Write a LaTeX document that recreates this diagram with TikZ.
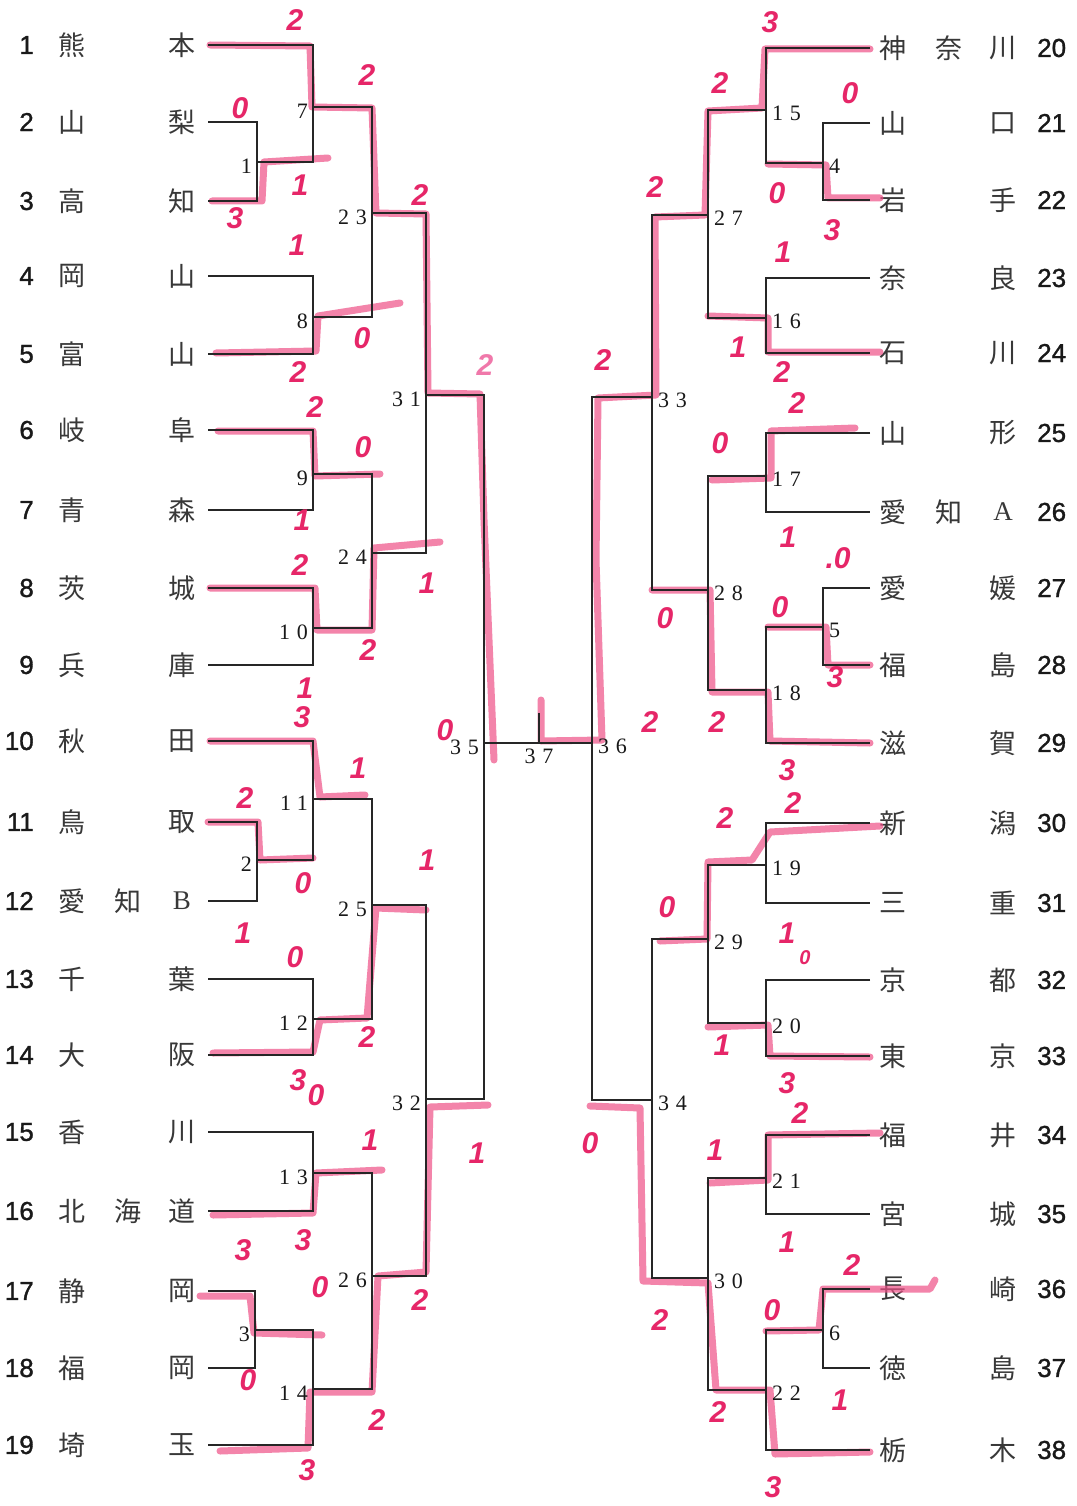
\documentclass[tikz,border=0pt]{standalone}
\usepackage{fontspec}
\newfontfamily\cjk{Noto Sans CJK JP}
\newfontfamily\numf[FakeBold=1.2]{Liberation Sans}
\newfontfamily\serf[LetterSpace=30]{Liberation Serif}
\newfontfamily\latf{Liberation Serif}
\newfontfamily\hand{Liberation Sans}
\newcommand\latB[1]{{\latf #1}}
\definecolor{hl}{RGB}{238,80,135}
\definecolor{pen}{RGB}{230,38,104}
\definecolor{penlt}{RGB}{240,120,170}
\tikzset{
 br/.style={draw=black!85, line width=1.2pt},
 hl/.style={draw=hl, line width=7pt, opacity=0.7, line cap=round, line join=round},
 sc/.style={text=pen, font=\hand\bfseries\itshape\fontsize{30}{30}\selectfont, inner sep=0pt},
 kj/.style={font=\cjk\fontsize{27}{27}\selectfont, text=black!78, inner sep=0pt},
 tnum/.style={font=\numf\fontsize{26}{26}\selectfont, text=black!90, inner sep=0pt},
 mnum/.style={font=\serf\fontsize{22}{22}\selectfont, text=black!90, inner sep=0pt},
}
\begin{document}
\begin{tikzpicture}[x=1pt,y=-1pt]
\useasboundingbox[fill=white] (0,0) rectangle (1076,1506);

% ---------- team entries ----------
\foreach \i/\y/\a/\c in {1/45/熊/本, 2/122/山/梨, 3/201/高/知, 4/276/岡/山, 5/354/富/山, 6/430/岐/阜, 7/510/青/森, 8/588/茨/城, 9/665/兵/庫, 10/741/秋/田, 11/822/鳥/取, 12/901/愛/{\latB B}, 13/979/千/葉, 14/1055/大/阪, 15/1132/香/川, 16/1211/北/道, 17/1291/静/岡, 18/1368/福/岡, 19/1445/埼/玉}{
  \node[tnum,anchor=east] (ln\i) at (34,\y) {\i};
  \node[kj] (la\i) at (72,\y) {\a};
  \node[kj] (lc\i) at (182,\y) {\c};
  \coordinate (L\i) at (208,\y);
}
\node[kj] (lb12) at (128,901) {知};
\node[kj] (lb16) at (128,1211) {海};

\foreach \i/\y/\a/\c in {20/48/神/川, 21/123/山/口, 22/200/岩/手, 23/278/奈/良, 24/353/石/川, 25/433/山/形, 26/512/愛/{\latB A}, 27/588/愛/媛, 28/665/福/島, 29/743/滋/賀, 30/823/新/潟, 31/903/三/重, 32/980/京/都, 33/1056/東/京, 34/1135/福/井, 35/1214/宮/城, 36/1289/長/崎, 37/1368/徳/島, 38/1450/栃/木}{
  \node[tnum,anchor=west] (rn\i) at (1037,\y) {\i};
  \node[kj] (ra\i) at (893,\y) {\a};
  \node[kj] (rc\i) at (1003,\y) {\c};
  \coordinate (R\i) at (870,\y);
}
\node[kj] (rb20) at (949,48) {奈};
\node[kj] (rb26) at (949,512) {知};

% ---------- match points ----------
\foreach \k/\x/\y in {1/257/162, 2/257/860, 3/255/1330, 7/313/107, 8/313/317, 9/313/474, 10/313/628, 11/313/799, 12/313/1019, 13/313/1173, 14/313/1389, 23/372/213, 24/372/553, 25/372/905, 26/372/1276, 31/426/395, 32/426/1099, 35/484/743,
 4/823/163, 5/823/627, 6/823/1330, 15/766/110, 16/766/318, 17/766/476, 18/766/690, 19/766/865, 20/766/1023, 21/766/1178, 22/766/1390, 27/708/215, 28/708/590, 29/708/939, 30/708/1278, 33/652/397, 34/652/1100, 36/592/743, 37/539/743}
  \coordinate (m\k) at (\x,\y);
\coordinate (m37t) at (539,713);

% ---------- pink highlighter ----------
\draw[hl] (210,45) -- (310,46) -- (312,107) -- (372,108) -- (376,213) -- (426,214) -- (428,393) -- (480,394) -- (484,520) -- (494,760);
\draw[hl] (212,201) -- (262,201) -- (264,162) -- (328,158);
\draw[hl] (216,353) -- (316,351) -- (318,316) -- (400,303);
\draw[hl] (218,431) -- (313,431) -- (315,476) -- (380,474);
\draw[hl] (210,588) -- (315,588) -- (317,630) -- (372,630) -- (374,548) -- (440,542);
\draw[hl] (210,741) -- (313,741) -- (320,797) -- (365,795);
\draw[hl] (208,822) -- (258,822) -- (260,860) -- (313,858);
\draw[hl] (213,1053) -- (313,1052) -- (320,1020) -- (367,1018) -- (376,908) -- (426,910);
\draw[hl] (213,1215) -- (313,1213) -- (316,1173) -- (382,1170);
\draw[hl] (200,1296) -- (250,1296) -- (254,1333) -- (322,1335);
\draw[hl] (220,1451) -- (308,1448) -- (310,1392) -- (372,1392) -- (378,1276) -- (426,1272) -- (430,1107) -- (488,1105);
\draw[hl] (870,49) -- (765,49) -- (762,108) -- (708,111) -- (705,215) -- (655,217) -- (656,395) -- (598,398) -- (596,560) -- (602,740) -- (541,741) -- (541,700);
\draw[hl] (880,198) -- (828,198) -- (826,165) -- (768,164);
\draw[hl] (880,352) -- (768,352) -- (768,318) -- (708,316);
\draw[hl] (855,428) -- (771,431) -- (771,478) -- (712,480);
\draw[hl] (870,665) -- (828,665) -- (826,627) -- (768,627);
\draw[hl] (870,743) -- (770,741) -- (768,692) -- (712,692) -- (710,590) -- (652,590);
\draw[hl] (880,826) -- (770,832) -- (752,860) -- (708,862) -- (707,939) -- (660,941);
\draw[hl] (870,1057) -- (770,1056) -- (768,1025) -- (708,1027);
\draw[hl] (880,1133) -- (768,1135) -- (768,1180) -- (710,1183);
\draw[hl] (935,1280) -- (930,1289) -- (823,1289) -- (819,1330) -- (766,1331);
\draw[hl] (870,1452) -- (775,1454) -- (770,1390) -- (716,1390) -- (708,1283) -- (643,1281) -- (640,1108) -- (590,1106);

% ---------- bracket lines ----------
\foreach \m/\a/\b in {1/L2/L3, 2/L11/L12, 3/L17/L18, 7/L1/m1, 8/L4/L5, 9/L6/L7, 10/L8/L9, 11/L10/m2, 12/L13/L14, 13/L15/L16, 14/m3/L19, 23/m7/m8, 24/m9/m10, 25/m11/m12, 26/m13/m14, 31/m23/m24, 32/m25/m26, 35/m31/m32,
 4/R21/R22, 5/R27/R28, 6/R36/R37, 15/R20/m4, 16/R23/R24, 17/R25/R26, 18/m5/R29, 19/R30/R31, 20/R32/R33, 21/R34/R35, 22/m6/R38, 27/m15/m16, 28/m17/m18, 29/m19/m20, 30/m21/m22, 33/m27/m28, 34/m29/m30, 36/m33/m34}
  \draw[br] (\a) -| (m\m) |- (\b);
\draw[br] (m35) -- (m36);
\draw[br] (m37t) -- (m37);

% ---------- match numbers ----------
\foreach \k in {1,2,3,7,8,9,10,11,12,13,14,23,24,25,26,31,32,35}
  \node[mnum,anchor=east,xshift=-5pt,yshift=-4pt] (ml\k) at (m\k) {\k};
\foreach \k in {4,5,6,15,16,17,18,19,20,21,22,27,28,29,30,33,34,36}
  \node[mnum,anchor=west,xshift=6pt,yshift=-3pt] (ml\k) at (m\k) {\k};
\node[mnum,anchor=north,yshift=-6pt] (ml37) at (m37) {37};

% ---------- handwritten scores ----------
\foreach \x/\y/\t [count=\n] in {295/20/2, 367/75/2, 240/108/0, 300/185/1, 235/218/3, 420/195/2, 297/245/1, 362/338/0, 298/372/2, 315/407/2, 363/447/0, 302/520/1, 300/565/2, 427/583/1, 368/650/2, 305/688/1, 302/717/3, 445/730/0, 358/768/1, 245/798/2, 303/883/0, 427/860/1, 243/933/1, 295/957/0, 367/1037/2, 298/1080/3, 316/1095/0, 370/1140/1, 477/1153/1, 243/1250/3, 303/1240/3, 320/1287/0, 420/1300/2, 248/1380/0, 377/1420/2, 307/1470/3,
 603/360/2, 650/722/2, 590/1143/0,
 770/22/3, 720/83/2, 850/93/0, 655/187/2, 777/193/0, 832/230/3, 783/252/1, 738/347/1, 782/372/2, 797/403/2, 720/443/0, 788/537/1, 838/558/{.0}, 780/607/0, 665/618/0, 835/677/3, 717/722/2, 787/770/3, 793/803/2, 725/818/2, 667/907/0, 787/933/1, 722/1045/1, 787/1083/3, 800/1113/2, 715/1150/1, 787/1242/1, 852/1265/2, 772/1310/0, 660/1320/2, 840/1400/1, 718/1412/2, 773/1487/3}
  \node[sc] (sc\n) at (\x,\y) {\t};
\node[sc,text=penlt] (scA) at (485,365) {2};
\node[sc,font=\hand\bfseries\itshape\fontsize{20}{20}\selectfont] (scB) at (805,958) {0};
\end{tikzpicture}
\end{document}
